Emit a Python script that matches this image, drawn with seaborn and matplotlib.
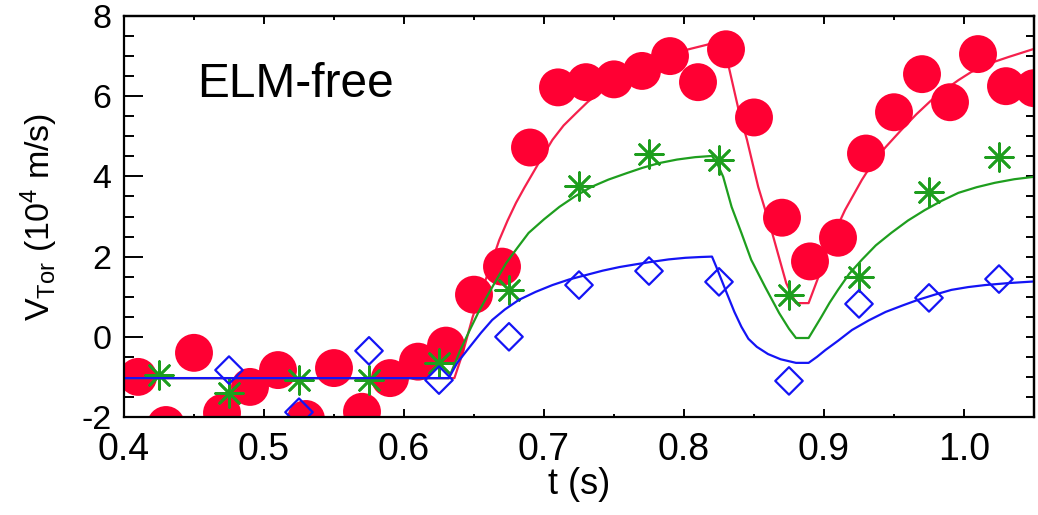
import numpy as np
import pandas as pd
import matplotlib
matplotlib.use("Agg")
import matplotlib.pyplot as plt
import seaborn as sns
from matplotlib.ticker import MultipleLocator, FixedLocator, NullFormatter

# ---------------- data ----------------
# red circles (measured points)
red_t = [0.41, 0.43, 0.45, 0.47, 0.49, 0.51, 0.53, 0.55, 0.57, 0.59, 0.61,
         0.63, 0.65, 0.67, 0.69, 0.71, 0.73, 0.75, 0.77, 0.79, 0.81, 0.83,
         0.85, 0.87, 0.89, 0.91, 0.93, 0.95, 0.97, 0.99, 1.01, 1.03, 1.05]
red_v = [-1.0, -2.2, -0.4, -1.9, -1.25, -0.83, -2.05, -0.78, -1.87, -1.03, -0.62,
         -0.22, 1.05, 1.75, 4.72, 6.22, 6.35, 6.42, 6.63, 7.0, 6.35, 7.17,
         5.47, 2.97, 1.88, 2.47, 4.57, 5.6, 6.55, 5.85, 7.05, 6.25, 6.2]

# green asterisks
green_t = [0.425, 0.475, 0.525, 0.575, 0.625, 0.675, 0.725, 0.775, 0.825,
           0.875, 0.925, 0.975, 1.025]
green_v = [-0.95, -1.4, -1.08, -1.07, -0.65, 1.17, 3.76, 4.56, 4.41,
           1.04, 1.49, 3.61, 4.48]

# blue diamonds
blue_t = [0.475, 0.525, 0.575, 0.625, 0.675, 0.725, 0.775, 0.825,
          0.875, 0.925, 0.975, 1.025]
blue_v = [-0.83, -1.88, -0.35, -1.08, 0.0, 1.29, 1.64, 1.37,
          -1.1, 0.82, 0.97, 1.44]

# model curves
red_line_t = [0.40, 0.636, 0.642, 0.649, 0.654, 0.659, 0.668, 0.674, 0.680,
              0.686, 0.692, 0.699, 0.706, 0.714, 0.723, 0.731, 0.739, 0.753,
              0.768, 0.785, 0.801, 0.816, 0.821, 0.826, 0.832, 0.839, 0.845,
              0.853, 0.863, 0.873, 0.880, 0.889, 0.896, 0.905, 0.915, 0.927,
              0.935, 0.944, 0.955, 0.966, 0.977, 0.986, 0.996, 1.005, 1.015,
              1.032, 1.05]
red_line_v = [-1.03, -1.03, -0.4, 0.49, 1.0, 1.49, 2.41, 2.9, 3.34,
              3.72, 4.08, 4.5, 4.91, 5.27, 5.58, 5.85, 6.08, 6.4,
              6.68, 6.93, 7.15, 7.28, 7.33, 7.1, 6.73, 5.66, 4.91,
              3.74, 2.59, 1.34, 0.84, 0.84, 1.49, 2.41, 3.16, 3.91,
              4.35, 4.73, 5.15, 5.55, 5.91, 6.15, 6.40, 6.6, 6.78,
              6.98, 7.18]

green_line_t = [0.40, 0.632, 0.640, 0.647, 0.653, 0.659, 0.666, 0.673, 0.681,
                0.689, 0.700, 0.711, 0.722, 0.734, 0.746, 0.759, 0.770, 0.782,
                0.795, 0.808, 0.820, 0.824, 0.828, 0.834, 0.841, 0.848, 0.858,
                0.868, 0.875, 0.880, 0.889, 0.898, 0.904, 0.910, 0.918, 0.927,
                0.937, 0.948, 0.960, 0.972, 0.984, 0.996, 1.009, 1.022, 1.036,
                1.05]
green_line_v = [-1.03, -1.03, -0.35, 0.17, 0.6, 0.99, 1.42, 1.84, 2.22,
                2.59, 2.93, 3.24, 3.5, 3.74, 3.92, 4.08, 4.21, 4.33,
                4.42, 4.48, 4.51, 4.3, 3.99, 3.24, 2.59, 1.92, 1.24,
                0.59, 0.2, -0.03, -0.03, 0.49, 0.85, 1.17, 1.57, 1.92,
                2.28, 2.59, 2.9, 3.16, 3.39, 3.59, 3.73, 3.84, 3.93,
                3.99]

blue_line_t = [0.40, 0.632, 0.638, 0.647, 0.655, 0.663, 0.672, 0.682, 0.694,
               0.706, 0.718, 0.730, 0.742, 0.754, 0.766, 0.777, 0.789, 0.801,
               0.812, 0.820, 0.823, 0.827, 0.831, 0.836, 0.841, 0.846, 0.852,
               0.860, 0.869, 0.880, 0.889, 0.895, 0.901, 0.910, 0.920, 0.932,
               0.944, 0.956, 0.967, 0.979, 0.991, 1.003, 1.015, 1.032, 1.05]
blue_line_v = [-1.03, -1.03, -0.65, -0.25, 0.1, 0.42, 0.68, 0.92, 1.12,
               1.29, 1.43, 1.54, 1.65, 1.74, 1.81, 1.87, 1.93, 1.97,
               1.99, 2.0, 1.75, 1.4, 1.05, 0.62, 0.25, -0.05, -0.25,
               -0.43, -0.56, -0.65, -0.65, -0.5, -0.33, -0.1, 0.17, 0.41,
               0.62, 0.78, 0.92, 1.05, 1.17, 1.24, 1.29, 1.34, 1.38]

x_ticks = [0.4, 0.5, 0.6, 0.7, 0.8, 0.9, 1.0]
x_ticklabels = ["0.4", "0.5", "0.6", "0.7", "0.8", "0.9", "1.0"]
y_ticks = [-2, 0, 2, 4, 6, 8]
y_ticklabels = ["-2", "0", "2", "4", "6", "8"]

RED = "#FF0033"
RED_LINE = "#F5204C"
GREEN = "#1E9E1E"
BLUE = "#1414F5"

# ---------------- style ----------------
sns.set_theme(style="ticks")
plt.rcParams["font.family"] = ["Liberation Sans", "DejaVu Sans"]
plt.rcParams["mathtext.fontset"] = "custom"
plt.rcParams["mathtext.rm"] = "Liberation Sans"
plt.rcParams["mathtext.it"] = "Liberation Sans:italic"
plt.rcParams["mathtext.bf"] = "Liberation Sans:bold"

fig = plt.figure(figsize=(10.38, 5.15), dpi=100)
ax = fig.add_axes([124 / 1038, 1 - 417 / 515, (1034 - 124) / 1038, (417 - 16) / 515])

# red
sns.lineplot(x=red_line_t, y=red_line_v, ax=ax, color=RED_LINE, lw=1.6,
             sort=False, estimator=None, zorder=2.0)
sns.scatterplot(x=red_t, y=red_v, ax=ax, color=RED, marker="o", s=27.3 ** 2,
                edgecolor="none", linewidth=0, zorder=2.1)
# green
sns.lineplot(x=green_line_t, y=green_line_v, ax=ax, color=GREEN, lw=1.6,
             sort=False, estimator=None, zorder=2.2)
sns.scatterplot(x=green_t, y=green_v, ax=ax, color=GREEN, marker=(8, 2, 0),
                s=20 ** 2, linewidth=1.9, zorder=2.3)
# blue
sns.lineplot(x=blue_line_t, y=blue_line_v, ax=ax, color=BLUE, lw=1.6,
             sort=False, estimator=None, zorder=2.4)
sns.scatterplot(x=blue_t, y=blue_v, ax=ax, color=BLUE, marker="D", s=14 ** 2,
                facecolors="none", edgecolor=BLUE, linewidth=1.6, zorder=2.5)

ax.set_xlim(0.4, 1.05)
ax.set_ylim(-2, 8)

ax.text(0.452, 5.98, "ELM-free", fontsize=34.5, ha="left", va="baseline",
        color="black")

# ticks
ax.xaxis.set_major_locator(FixedLocator(x_ticks))
ax.set_xticklabels(x_ticklabels)
ax.xaxis.set_minor_locator(MultipleLocator(0.05))
ax.yaxis.set_major_locator(FixedLocator(y_ticks))
ax.set_yticklabels(y_ticklabels)
ax.yaxis.set_minor_locator(MultipleLocator(0.5))

ax.tick_params(axis="x", which="major", direction="in", length=5.8, width=1.4,
               labelsize=27, pad=11, color="black", labelcolor="black")
ax.tick_params(axis="x", which="minor", direction="in", length=2.2, width=1.4,
               color="black")
ax.tick_params(axis="y", which="major", direction="in", length=13.7, width=1.4,
               labelsize=24.5, pad=9, color="black", labelcolor="black")
ax.tick_params(axis="y", which="minor", direction="in", length=7.2, width=1.4,
               color="black")

secx = ax.secondary_xaxis("top")
secx.xaxis.set_major_locator(FixedLocator(x_ticks))
secx.xaxis.set_minor_locator(MultipleLocator(0.05))
secx.xaxis.set_major_formatter(NullFormatter())
secx.tick_params(which="major", direction="in", length=5.8, width=1.4, color="black")
secx.tick_params(which="minor", direction="in", length=2.9, width=1.4, color="black")
secx.spines["top"].set_linewidth(1.6)
secx.spines["top"].set_color("black")

secy = ax.secondary_yaxis("right")
secy.yaxis.set_major_locator(MultipleLocator(0.5))
secy.yaxis.set_major_formatter(NullFormatter())
secy.tick_params(which="major", direction="in", length=5.8, width=1.4, color="black")
secy.spines["right"].set_linewidth(1.6)
secy.spines["right"].set_color("black")

for s in ax.spines.values():
    s.set_linewidth(1.6)
    s.set_color("black")
    s.set_visible(True)

ax.set_xlabel("t (s)", fontsize=26, labelpad=-1, color="black")
ax.set_ylabel(r"V$_{\rm Tor}$ (10$^{\rm 4}$ m/s)", fontsize=24.5, labelpad=15,
              color="black")

fig.savefig("out.png", dpi=100)
